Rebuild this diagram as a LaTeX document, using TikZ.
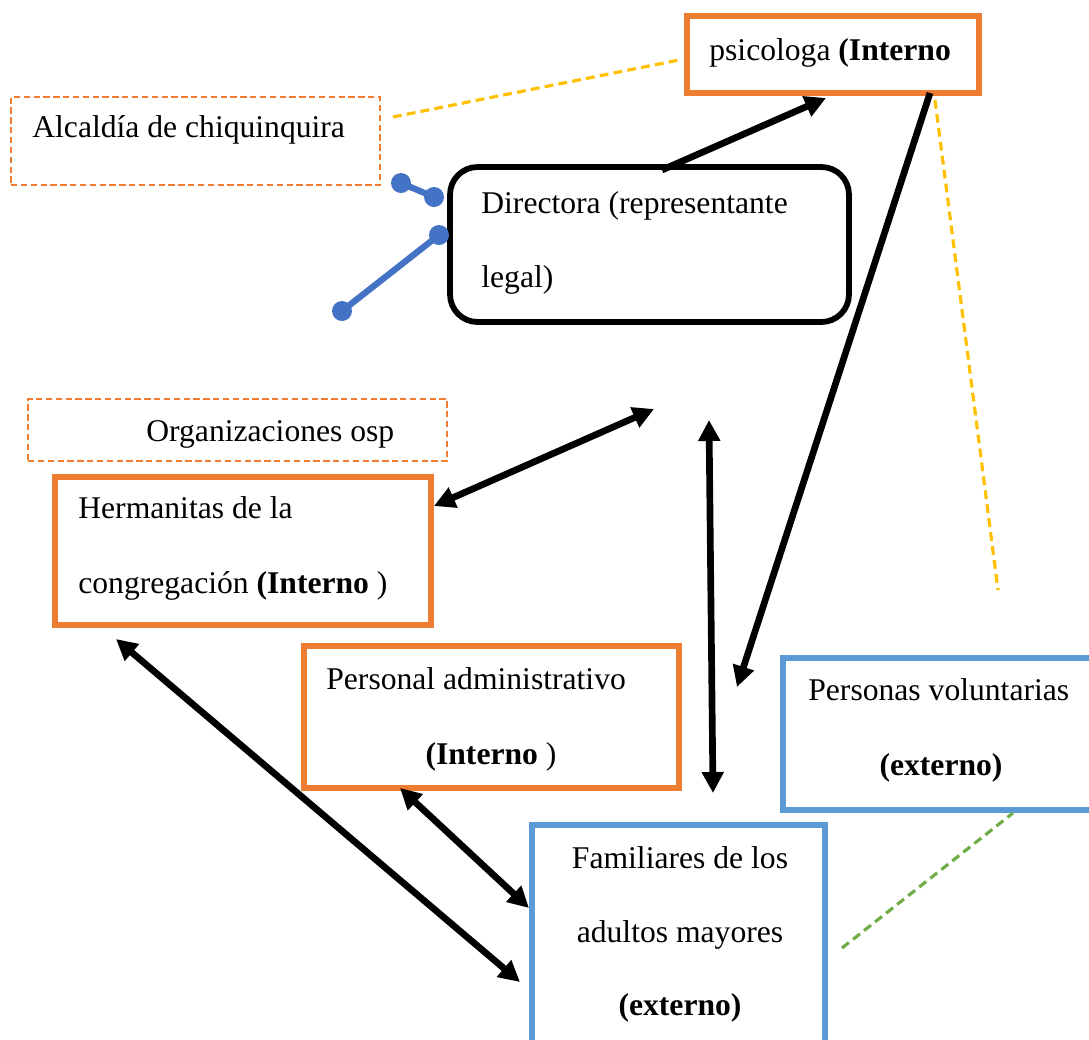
\documentclass[tikz,border=0pt]{standalone}
\usepackage{fontspec}
\setmainfont{Liberation Serif}
\usetikzlibrary{arrows.meta}
\definecolor{naranja}{HTML}{ED7D31}
\definecolor{azul}{HTML}{5B9BD5}
\definecolor{azuloscuro}{HTML}{4472C4}
\definecolor{amarillo}{HTML}{FFC000}
\definecolor{verde}{HTML}{70AD47}
\begin{document}
\begin{tikzpicture}[x=0.02cm, y=-0.02cm,
	font=\fontsize{18}{22}\selectfont,
	orangebox/.style={draw=naranja, line width=3.5pt, inner sep=0pt},
	bluebox/.style={draw=azul, line width=3.5pt, inner sep=0pt},
	dashbox/.style={draw=naranja, line width=1.4pt, dash pattern=on 3.6pt off 2pt, inner sep=0pt},
	txt/.style={inner sep=0pt, anchor=base west},
	ctxt/.style={inner sep=0pt, anchor=base},
	link/.style={line width=3.8pt, -{Triangle[length=0.42cm,width=0.42cm]}},
	duallink/.style={line width=3.8pt, {Triangle[length=0.42cm,width=0.42cm]}-{Triangle[length=0.42cm,width=0.42cm]}},
	yline/.style={draw=amarillo, line width=1.8pt, dash pattern=on 5pt off 3pt},
	gline/.style={draw=verde, line width=1.8pt, dash pattern=on 5pt off 3pt},
	dot/.style={circle, fill=azuloscuro, inner sep=0pt, minimum size=0.4cm}]
	\useasboundingbox (0,0) rectangle (1089,1039);

	% cajas
	\node[orangebox, minimum width=5.84cm, minimum height=1.54cm] (psi) at (833,54.5) {};
	\node[dashbox, minimum width=7.38cm, minimum height=1.76cm] (alc) at (195.5,141) {};
	\node[draw, line width=3.3pt, rounded corners=0.55cm, minimum width=7.98cm, minimum height=3.1cm] (dir) at (649.5,244.5) {};
	\node[dashbox, minimum width=8.38cm, minimum height=1.24cm] (org) at (237.5,430) {};
	\node[orangebox, minimum width=7.52cm, minimum height=2.97cm] (her) at (243,551) {};
	\node[orangebox, minimum width=7.5cm, minimum height=2.84cm] (adm) at (491.5,717) {};
	\node[bluebox, minimum width=6.24cm, minimum height=3.04cm] (vol) at (939,734) {};
	\node[bluebox, minimum width=5.86cm, minimum height=4.5cm] (fam) at (678.5,937.5) {};

	% textos
	\node[txt] (psitxt) at (709,60) {psicologa \textbf{(Interno}};
	\node[txt] (alctxt) at (32,137) {Alcaldía de chiquinquira};
	\node[txt] (dirtxt1) at (481,213) {Directora (representante};
	\node[txt] (dirtxt2) at (481,287) {legal)};
	\node[txt] (orgtxt) at (146,441) {Organizaciones osp};
	\node[txt] (hertxt1) at (78,518) {Hermanitas de la};
	\node[txt] (hertxt2) at (78,593) {congregación \textbf{(Interno} )};
	\node[txt] (admtxt1) at (326,689) {Personal administrativo};
	\node[ctxt] (admtxt2) at (491,764) {\textbf{(Interno} )};
	\node[txt] (voltxt1) at (808,700) {Personas voluntarias};
	\node[ctxt] (voltxt2) at (941,775) {\textbf{(externo)}};
	\node[ctxt] (famtxt1) at (680,868) {Familiares de los};
	\node[ctxt] (famtxt2) at (680,942) {adultos mayores};
	\node[ctxt] (famtxt3) at (680,1015) {\textbf{(externo)}};

	% puntos azules
	\node[dot] (d1) at (401,183) {};
	\node[dot] (d2) at (434,197) {};
	\node[dot] (d3) at (439,235) {};
	\node[dot] (d4) at (342,311) {};
	\draw[azuloscuro, line width=3.6pt] (d1.center) -- (d2.center);
	\draw[azuloscuro, line width=3.6pt] (d3.center) -- (d4.center);

	% extremos de flechas
	\coordinate (dirout) at (662,170);
	\coordinate (psiin) at (826,98);
	\coordinate (psiout) at (930,93);
	\coordinate (btip) at (737,687);
	\coordinate (herin) at (434,506);
	\coordinate (ctip) at (654,409);
	\coordinate (vtop) at (709,420);
	\coordinate (vbot) at (713,793);
	\coordinate (herbot) at (116,639);
	\coordinate (famwest) at (520,982);
	\coordinate (admbot) at (400,788);
	\coordinate (famnw) at (529,908);

	\draw[link] (dirout) -- (psiin);
	\draw[link] (psiout) -- (btip);
	\draw[duallink] (herin) -- (ctip);
	\draw[duallink] (vtop) -- (vbot);
	\draw[duallink] (herbot) -- (famwest);
	\draw[duallink] (admbot) -- (famnw);

	% lineas punteadas
	\coordinate (alcend) at (393,117);
	\coordinate (psiwest) at (679,60);
	\coordinate (psise) at (935,100);
	\coordinate (yend) at (998,590);
	\coordinate (famend) at (842,948);
	\coordinate (volsw) at (1013,813);
	\draw[yline] (alcend) -- (psiwest);
	\draw[yline] (psise) -- (yend);
	\draw[gline] (famend) -- (volsw);
\end{tikzpicture}
\end{document}
